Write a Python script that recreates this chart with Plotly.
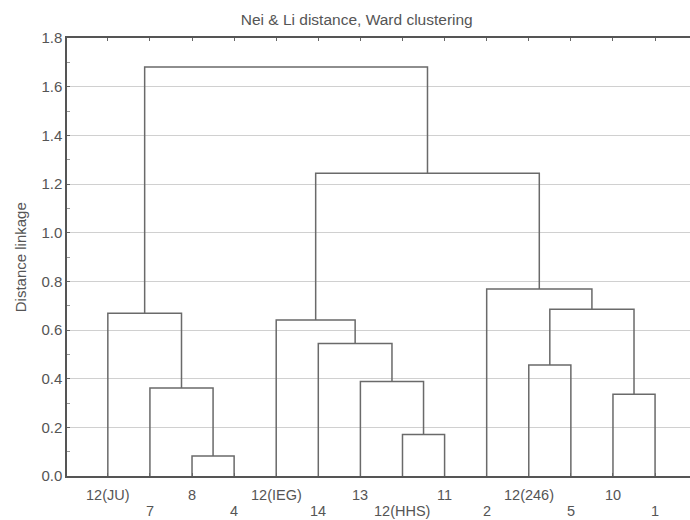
import plotly.graph_objects as go

# ---- data ----
leaf_labels = ["12(JU)", "7", "8", "4", "12(IEG)", "14", "13", "12(HHS)", "11",
               "2", "12(246)", "5", "10", "1"]
# linkage: cluster ids 0..13 are leaves, 14+k is the k-th merge
merge_a = [2, 7, 12, 1, 6, 10, 5, 4, 0, 19, 9, 21, 22]
merge_b = [3, 8, 13, 14, 15, 11, 18, 20, 17, 16, 23, 24, 25]
merge_h = [0.082, 0.171, 0.336, 0.362, 0.388, 0.456, 0.545, 0.641, 0.669,
           0.685, 0.769, 1.244, 1.681]
y_ticks = [0.0, 0.2, 0.4, 0.6, 0.8, 1.0, 1.2, 1.4, 1.6, 1.8]

# ---- build dendrogram geometry from the linkage ----
n = len(leaf_labels)
leaf_pos = [i + 1 for i in range(n)]
pos = {i: leaf_pos[i] for i in range(n)}
hgt = {i: 0.0 for i in range(n)}
xs, ys = [], []
for k, (a, b, h) in enumerate(zip(merge_a, merge_b, merge_h)):
    xs += [pos[a], pos[a], pos[b], pos[b], None]
    ys += [hgt[a], h, h, hgt[b], None]
    pos[n + k] = (pos[a] + pos[b]) / 2
    hgt[n + k] = h

FONT = "Liberation Sans, Arial, sans-serif"
TXT = "#555555"

fig = go.Figure()
fig.add_trace(go.Scatter(x=xs, y=ys, mode="lines",
                         line=dict(color="#6a6a6a", width=1.5),
                         hoverinfo="skip", showlegend=False))

annotations = []
for i, lab in enumerate(leaf_labels):
    annotations.append(dict(x=leaf_pos[i], y=0, xref="x", yref="y",
                            text=lab, showarrow=False, yanchor="middle",
                            yshift=-19 if i % 2 == 0 else -35,
                            font=dict(family=FONT, size=14.5, color=TXT)))
annotations.append(dict(x=-0.075, y=0.5, xref="paper", yref="paper",
                        text="Distance linkage", textangle=-90, showarrow=False,
                        xanchor="center", yanchor="middle",
                        font=dict(family=FONT, size=15, color=TXT)))

fig.update_layout(
    width=690, height=520,
    margin=dict(l=67, r=0, t=38, b=44, autoexpand=False),
    paper_bgcolor="white", plot_bgcolor="white",
    title=dict(text="Nei & Li distance, Ward clustering", xref="container",
               x=0.517, xanchor="center", yref="container", y=1 - 20 / 520,
               yanchor="middle", font=dict(family=FONT, size=15.5, color=TXT)),
    annotations=annotations,
    showlegend=False,
)
fig.update_xaxes(range=[0.03, 14.83], tickvals=leaf_pos, showticklabels=False,
                 ticks="inside", ticklen=3, tickcolor="#666", showgrid=False,
                 zeroline=False, showline=True, linecolor="#555", linewidth=1.5,
                 mirror="ticks", automargin=False)
fig.update_yaxes(range=[0, 1.8], tickvals=y_ticks,
                 ticktext=[f"{v:.1f}" for v in y_ticks],
                 ticks="inside", ticklen=3, tickcolor="#666",
                 minor=dict(ticks="inside", ticklen=3, dtick=0.1, tickcolor="#999",
                            showgrid=False),
                 showgrid=True, gridcolor="#d0d0d0", gridwidth=1,
                 zeroline=False, showline=True, linecolor="#555", linewidth=1.5,
                 tickfont=dict(family=FONT, size=15, color=TXT), automargin=False)

fig.write_html("out.html",
               config={"displayModeBar": False},
               post_script="document.body.style.margin='0';"
                           "document.body.style.overflow='hidden';")
